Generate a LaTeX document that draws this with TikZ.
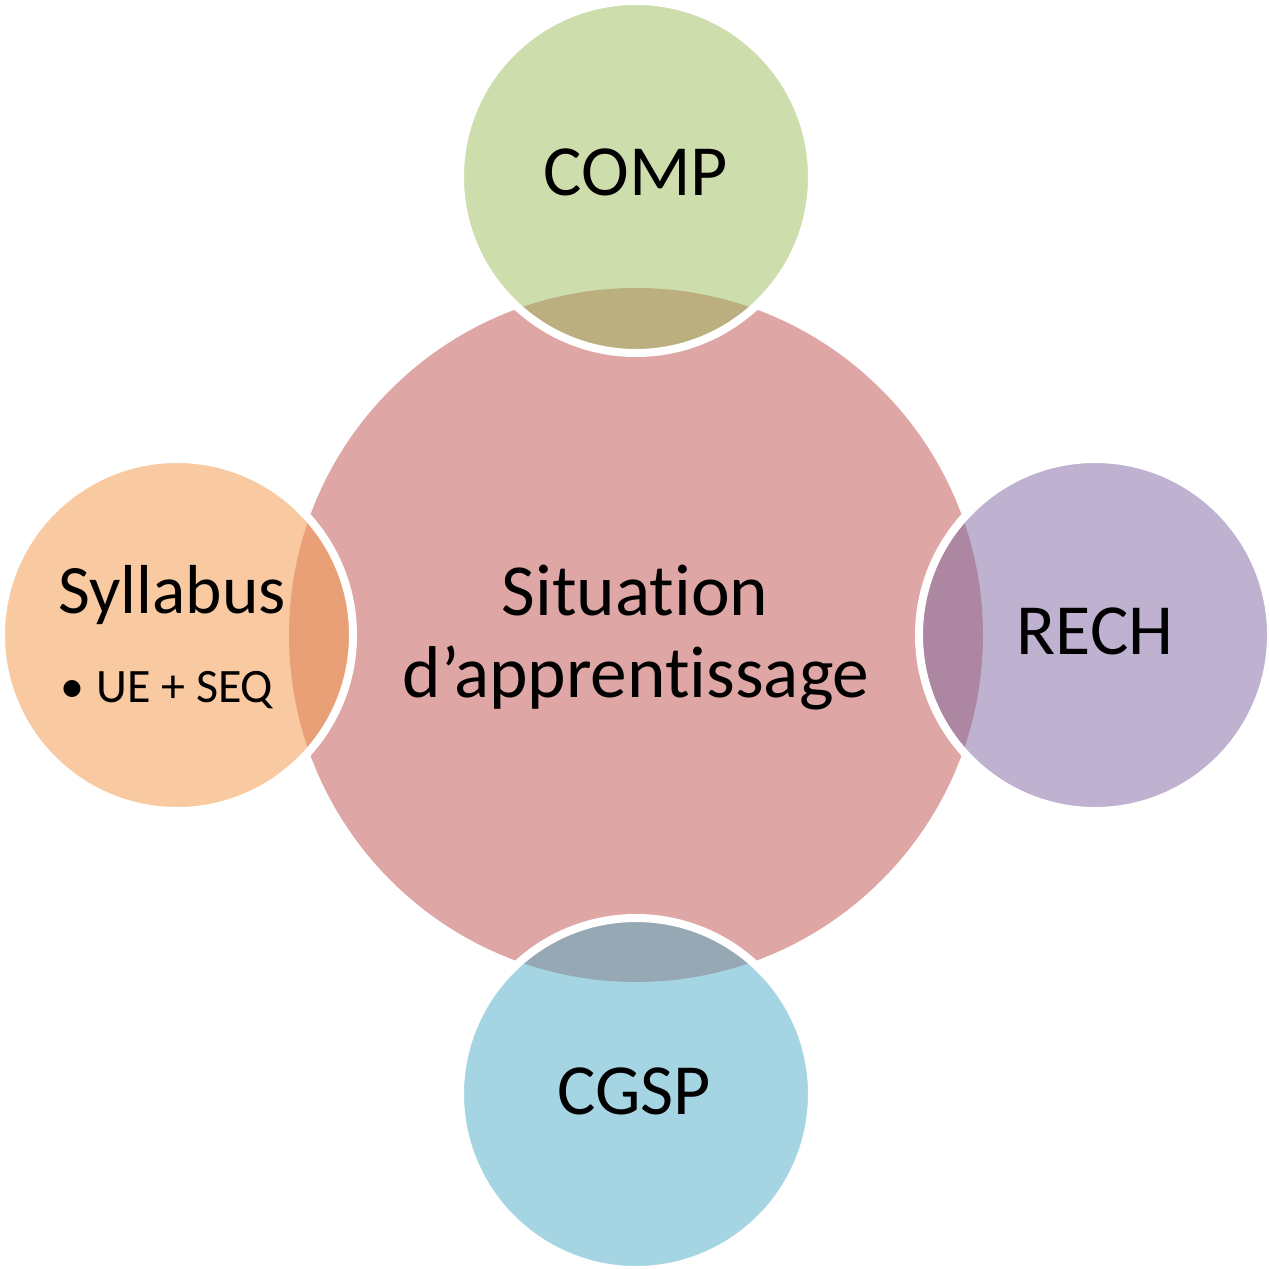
\documentclass[tikz,border=0pt]{standalone}
\usepackage{fontspec}
\setmainfont{Carlito}[Ligatures={NoCommon}]
\begin{document}
\tikzset{every picture/.style={line width=0.75pt}}
\tikzset{
  ring/.style={draw=white, line width=6pt},
  bigtext/.style={anchor=base, inner sep=0pt, font=\fontsize{54}{60}\selectfont},
  smalltext/.style={anchor=base west, inner sep=0pt, font=\fontsize{36}{40}\selectfont}
}

\begin{tikzpicture}[x=0.75pt,y=0.75pt,yscale=-1,xscale=1]
\useasboundingbox (0,0) rectangle (1268,1269);

%Shape: Circle [centre]
\fill [fill={rgb, 255:red, 223; green, 166; blue, 166 }] (636,635) circle (347);

%Shape: Circle [top]
\fill [fill={rgb, 255:red, 205; green, 221; blue, 172 }] (636,177) circle (176);
\begin{scope}
\clip (636,635) circle (347);
\fill [fill={rgb, 255:red, 187; green, 174; blue, 127 }] (636,177) circle (176);
\end{scope}
\draw [ring] (636,177) circle (176);

%Shape: Circle [right]
\fill [fill={rgb, 255:red, 191; green, 177; blue, 208 }] (1095,635) circle (176);
\begin{scope}
\clip (636,635) circle (347);
\fill [fill={rgb, 255:red, 173; green, 135; blue, 162 }] (1095,635) circle (176);
\end{scope}
\draw [ring] (1095,635) circle (176);

%Shape: Circle [bottom]
\fill [fill={rgb, 255:red, 165; green, 213; blue, 226 }] (636,1094) circle (176);
\begin{scope}
\clip (636,635) circle (347);
\fill [fill={rgb, 255:red, 149; green, 168; blue, 179 }] (636,1094) circle (176);
\end{scope}
\draw [ring] (636,1094) circle (176);

%Shape: Circle [left]
\fill [fill={rgb, 255:red, 249; green, 201; blue, 161 }] (177,635) circle (176);
\begin{scope}
\clip (636,635) circle (347);
\fill [fill={rgb, 255:red, 233; green, 160; blue, 119 }] (177,635) circle (176);
\end{scope}
\draw [ring] (177,635) circle (176);

% Text Node
\node (comp) [bigtext] at (636,196) {COMP};
% Text Node
\node (sit1) [bigtext, font=\fontsize{55}{60}\selectfont] at (635,615) {Situation};
% Text Node
\node (sit2) [bigtext, font=\fontsize{55}{60}\selectfont] at (636,697) {d’apprentissage};
% Text Node
\node (rech) [bigtext] at (1095,654) {RECH};
% Text Node
\node (cgsp) [bigtext] at (634,1114) {CGSP};
% Text Node
\node (syll) [bigtext, anchor=base west, font=\fontsize{52}{60}\selectfont] at (58,613) {Syllabus};
% Text Node
\node (ueseq) [smalltext] at (60,702) {\textbullet\hspace{0.25em}UE + SEQ};

\end{tikzpicture}
\end{document}
